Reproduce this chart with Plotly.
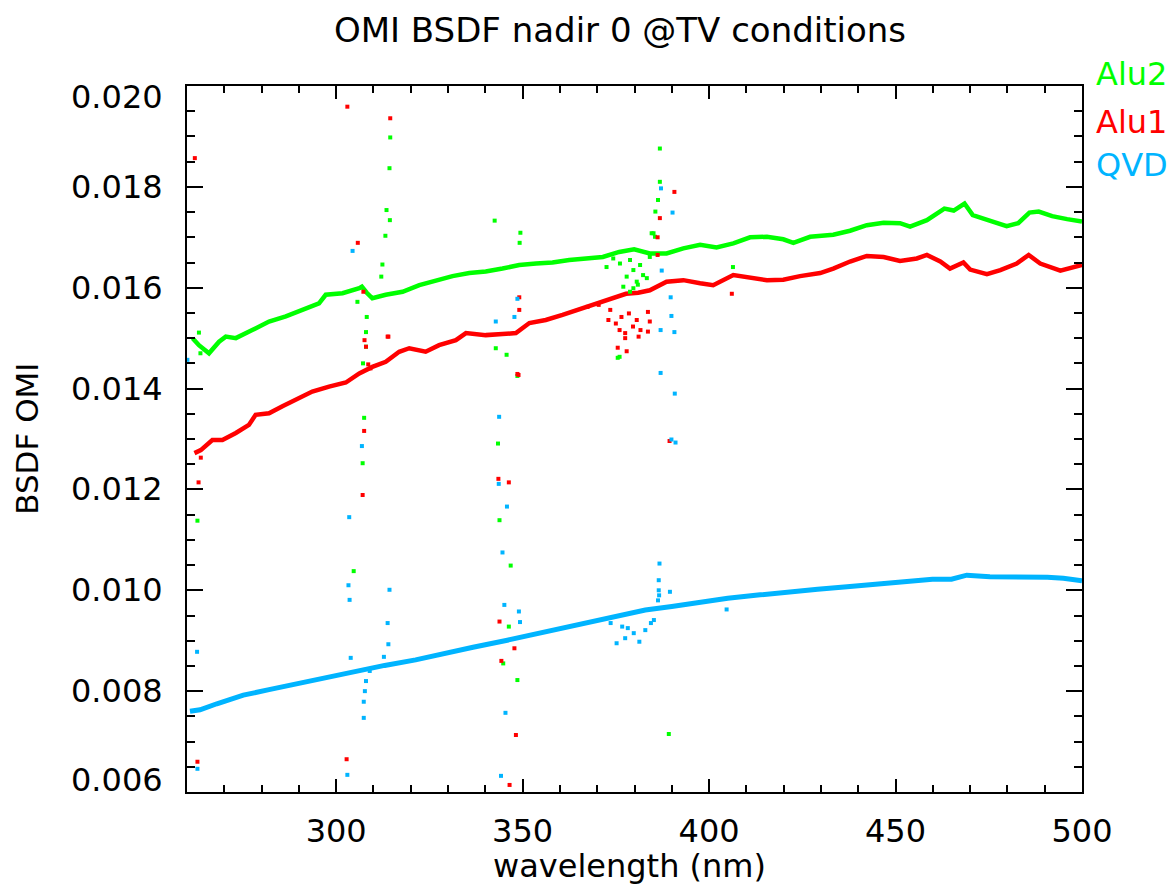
import plotly.graph_objects as go

# ---------------- data ----------------
alu2_wl = [261.5, 263.2, 265.9, 268.6, 270.4, 273.1, 277.5, 282.0, 286.5, 291.0, 295.4, 297.2,
           301.7, 306.2, 306.9, 308.2, 309.7, 313.3, 317.8, 322.3, 326.7, 331.2, 335.7, 340.1,
           344.6, 349.1, 353.6, 358.0, 362.5, 367.0, 371.5, 375.9, 379.9, 384.1, 388.6, 393.1,
           397.6, 402.0, 406.5, 411.0, 415.5, 419.9, 422.6, 427.1, 433.3, 437.8, 442.3, 446.8,
           451.2, 453.9, 458.4, 463.1, 465.6, 468.5, 470.7, 474.8, 479.8, 482.9, 485.9, 488.4,
           492.0, 496.0, 500.0]
alu2_val = [0.01500, 0.01486, 0.01470, 0.01493, 0.01503, 0.01500, 0.01516, 0.01533, 0.01543, 0.01557, 0.01569, 0.01586,
            0.01589, 0.01599, 0.01602, 0.01590, 0.01579, 0.01586, 0.01592, 0.01605, 0.01615, 0.01623, 0.01629, 0.01632,
            0.01638, 0.01645, 0.01648, 0.01650, 0.01655, 0.01658, 0.01661, 0.01671, 0.01676, 0.01668, 0.01668, 0.01678,
            0.01685, 0.01680, 0.01688, 0.01700, 0.01701, 0.01696, 0.01689, 0.01701, 0.01705, 0.01713, 0.01724, 0.01729,
            0.01728, 0.01721, 0.01734, 0.01757, 0.01753, 0.01767, 0.01744, 0.01734, 0.01722, 0.01728, 0.01749, 0.01751,
            0.01742, 0.01736, 0.01731]

alu1_wl = [262.0, 263.7, 266.8, 269.5, 273.1, 276.6, 278.4, 282.0, 285.6, 289.2, 293.6, 298.1,
           302.6, 306.2, 309.7, 313.3, 316.9, 319.6, 324.0, 327.6, 332.1, 334.8, 340.1, 344.6,
           348.2, 351.8, 356.2, 360.7, 365.2, 369.7, 374.1, 377.7, 381.0, 384.1, 388.6, 393.1,
           397.6, 401.1, 406.5, 411.0, 415.5, 419.9, 424.4, 429.8, 433.3, 437.8, 442.3, 446.8,
           451.2, 455.7, 458.4, 462.0, 464.6, 468.2, 470.0, 474.5, 478.1, 482.5, 485.7, 488.8,
           494.2, 500.0]
alu1_val = [0.01272, 0.01278, 0.01298, 0.01298, 0.01312, 0.01328, 0.01348, 0.01351, 0.01365, 0.01377, 0.01394, 0.01404,
            0.01412, 0.01430, 0.01443, 0.01453, 0.01473, 0.01480, 0.01473, 0.01486, 0.01496, 0.01510, 0.01506, 0.01508,
            0.01510, 0.01530, 0.01536, 0.01546, 0.01557, 0.01569, 0.01579, 0.01588, 0.01590, 0.01595, 0.01612, 0.01615,
            0.01609, 0.01605, 0.01625, 0.01619, 0.01615, 0.01616, 0.01623, 0.01629, 0.01638, 0.01652, 0.01663, 0.01661,
            0.01653, 0.01658, 0.01665, 0.01652, 0.01638, 0.01650, 0.01636, 0.01627, 0.01635, 0.01648, 0.01665, 0.01648,
            0.01634, 0.01645]

qvd_wl = [260.8, 263.5, 268.0, 275.1, 282.0, 290.5, 298.0, 305.9, 313.0, 321.3, 329.0, 336.7,
          345.9, 352.1, 360.0, 367.5, 375.0, 382.9, 390.0, 398.3, 405.0, 413.7, 421.0, 429.1,
          437.0, 444.5, 452.0, 459.9, 465.0, 469.1, 475.3, 482.0, 490.7, 495.0, 500.0]
qvd_val = [0.00760, 0.00763, 0.00775, 0.00792, 0.00803, 0.00816, 0.00829, 0.00842, 0.00851, 0.00862, 0.00875, 0.00887,
           0.00901, 0.00911, 0.00925, 0.00938, 0.00950, 0.00961, 0.00968, 0.00977, 0.00984, 0.00991, 0.00997, 0.01002,
           0.01007, 0.01012, 0.01017, 0.01022, 0.01022, 0.01030, 0.01027, 0.01027, 0.01026, 0.01024, 0.01019]

# scattered / outlying samples
alu2_pts_wl = [314.5, 314.3, 313.5, 314.4, 313.2, 312.4, 312.1, 342.5, 349.4, 349.2, 386.8, 386.8,
               386.3, 385.6, 385.1, 406.4, 263.2, 263.6, 305.7, 308.0, 308.2, 308.0, 307.2, 342.8,
               345.7, 348.6, 307.5, 307.1, 343.4, 376.0, 262.8, 343.8, 346.8, 304.7, 346.3, 344.8,
               348.6, 389.2, 375.5,
               376.1, 378.8, 379.7, 381.5, 382.3, 377.9, 380.6, 383.3, 377.0, 379.7, 384.1, 384.6,
               385.5, 372.5, 374.3, 378.8, 380.9]
alu2_pts_val = [0.01898, 0.01837, 0.01754, 0.01734, 0.01703, 0.01646, 0.01622, 0.01733, 0.01709, 0.01689, 0.01876, 0.01810,
                0.01774, 0.01751, 0.01708, 0.01641, 0.01511, 0.01470, 0.01572, 0.01512, 0.01542, 0.01483, 0.01450, 0.01480,
                0.01467, 0.01425, 0.01342, 0.01252, 0.01291, 0.01463, 0.01138, 0.01139, 0.01049, 0.01038, 0.00928, 0.00855,
                0.00822, 0.00715, 0.01461,
                0.01648, 0.01655, 0.01635, 0.01645, 0.01625, 0.01622, 0.01612, 0.01619, 0.01602, 0.01599, 0.01661, 0.01708,
                0.01701, 0.01641, 0.01658, 0.01592, 0.01606]

alu1_pts_wl = [303.0, 314.5, 262.1, 305.8, 307.3, 390.7, 386.8, 386.2, 386.2, 406.1, 313.8, 308.0,
               307.6, 308.6, 309.2, 349.1, 349.1, 348.6, 307.5, 263.7, 263.1, 307.1, 343.5, 346.3,
               314.0, 348.9, 262.8, 302.8, 343.8, 347.8, 344.3, 348.2, 346.5, 389.4, 375.5, 377.9,
               367.4, 370.4, 373.5, 376.5, 378.5, 380.6, 383.6, 384.1, 376.0, 377.5, 379.6, 381.6,
               383.6, 373.0, 375.0, 381.1, 377.5]
alu1_pts_val = [0.01959, 0.01936, 0.01857, 0.01689, 0.01592, 0.01790, 0.01738, 0.01700, 0.01665, 0.01588, 0.01503, 0.01483,
                0.01496, 0.01448, 0.01440, 0.01581, 0.01556, 0.01429, 0.01316, 0.01263, 0.01214, 0.01189, 0.01221, 0.01214,
                0.01503, 0.01427, 0.00660, 0.00665, 0.00938, 0.00885, 0.00860, 0.00713, 0.00614, 0.01296, 0.01481, 0.01474,
                0.01562, 0.01566, 0.01556, 0.01542, 0.01549, 0.01536, 0.01552, 0.01533, 0.01516, 0.01510, 0.01523, 0.01516,
                0.01513, 0.01536, 0.01529, 0.01503, 0.01500]

qvd_pts_wl = [262.7, 303.3, 303.6, 303.9, 307.4, 307.7, 308.0, 309.0, 307.4, 314.3, 313.8, 314.0,
              312.8, 345.1, 349.0, 349.3, 345.4, 386.7, 386.5, 386.6, 389.5, 404.7, 303.0, 344.2,
              262.8, 389.7, 389.9, 390.7, 387.0, 387.0, 390.8, 389.9, 391.0, 387.1, 390.2, 387.3,
              304.4, 348.6, 347.8, 342.8, 343.7, 306.9, 260.1, 303.5, 343.6, 345.8, 344.6,
              375.2, 377.5, 379.8, 382.9, 381.3, 378.2, 384.4, 376.7, 373.6, 385.2, 386.3, 386.5]
qvd_pts_val = [0.00878, 0.01010, 0.00981, 0.00866, 0.00779, 0.00800, 0.00820, 0.00840, 0.00747, 0.01001, 0.00935, 0.00893,
               0.00868, 0.00971, 0.00958, 0.00937, 0.00757, 0.01053, 0.01020, 0.00990, 0.00997, 0.00962, 0.00634, 0.00632,
               0.00646, 0.01581, 0.01544, 0.01512, 0.01516, 0.01431, 0.01390, 0.01299, 0.01293, 0.01797, 0.01749, 0.01634,
               0.01673, 0.01578, 0.01542, 0.01533, 0.01344, 0.01286, 0.01457, 0.01145, 0.01211, 0.01166, 0.01075,
               0.00895, 0.00905, 0.00915, 0.00921, 0.00898, 0.00925, 0.00935, 0.00928, 0.00935, 0.00941, 0.00980, 0.01000]

y_ticks = [0.006, 0.008, 0.010, 0.012, 0.014, 0.016, 0.018, 0.020]
y_tick_text = ["0.006", "0.008", "0.010", "0.012", "0.014", "0.016", "0.018", "0.020"]

GREEN = "#00ff00"
RED = "#ff0000"
BLUE = "#00b4ff"
FONT = "DejaVu Sans"

fig = go.Figure()
for wl, val, col, lw in [(alu2_wl, alu2_val, GREEN, 4.5), (alu1_wl, alu1_val, RED, 4.5), (qvd_wl, qvd_val, BLUE, 5)]:
    fig.add_trace(go.Scatter(x=wl, y=val, mode="lines", line=dict(color=col, width=lw), showlegend=False))
for wl, val, col in [(alu2_pts_wl, alu2_pts_val, GREEN), (alu1_pts_wl, alu1_pts_val, RED), (qvd_pts_wl, qvd_pts_val, BLUE)]:
    fig.add_trace(go.Scatter(x=wl, y=val, mode="markers",
                             marker=dict(color=col, size=4, symbol="square", line=dict(width=0)),
                             showlegend=False, cliponaxis=True))

axis_common = dict(showline=True, linecolor="black", linewidth=1.5, mirror="ticks",
                   ticks="inside", tickcolor="black", tickwidth=1.5, showgrid=False, zeroline=False)

fig.update_xaxes(range=[260, 500], tick0=300, dtick=50, ticklen=13,
                 minor=dict(ticks="inside", dtick=10, ticklen=7, tickcolor="black", tickwidth=1.5),
                 tickfont=dict(family=FONT, size=32, color="black"), ticklabelstandoff=10,
                 **axis_common)
fig.update_yaxes(range=[0.006, 0.020], tick0=0.006, dtick=0.002, ticklen=16, showticklabels=False,
                 minor=dict(ticks="inside", dtick=0.0005, ticklen=8, tickcolor="black", tickwidth=1.5),
                 **axis_common)

annotations = []
for v, t in zip(y_ticks, y_tick_text):
    shift = -11 if v == y_ticks[-1] else (12 if v == y_ticks[0] else 0)
    annotations.append(dict(x=-0.025, xref="paper", y=v, yref="y", text=t, showarrow=False,
                            xanchor="right", yanchor="middle", yshift=shift,
                            font=dict(family=FONT, size=32, color="black")))
annotations.append(dict(x=0.494, xref="paper", y=-0.105, yref="paper", text="wavelength (nm)",
                        showarrow=False, xanchor="center", yanchor="middle",
                        font=dict(family=FONT, size=32, color="black")))
annotations.append(dict(x=-0.179, xref="paper", y=0.5, yref="paper", text="BSDF OMI", textangle=-90,
                        showarrow=False, xanchor="center", yanchor="middle",
                        font=dict(family=FONT, size=31, color="black")))
for txt, col, yp in [("Alu2", GREEN, 1.0163), ("Alu1", RED, 0.949), ("QVD", BLUE, 0.888)]:
    annotations.append(dict(x=1.0135, xref="paper", y=yp, yref="paper", text=txt, showarrow=False,
                            xanchor="left", yanchor="middle",
                            font=dict(family=FONT, size=32, color=col)))

fig.update_layout(
    width=1172, height=890,
    margin=dict(l=187, r=90, t=86, b=98),
    paper_bgcolor="white", plot_bgcolor="white",
    title=dict(text="OMI BSDF nadir 0 @TV conditions", x=0.529, xanchor="center",
               y=0.966, yanchor="middle", font=dict(family=FONT, size=34, color="black")),
    annotations=annotations,
    showlegend=False,
)

fig.write_html("out.html")
